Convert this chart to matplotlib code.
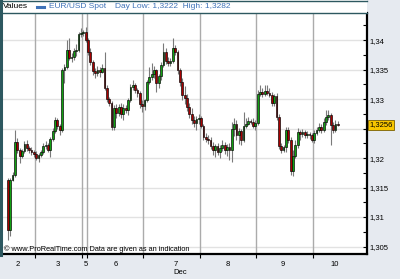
import matplotlib
matplotlib.use('Agg')
import matplotlib.pyplot as plt
import matplotlib.ticker as mticker
from matplotlib.patches import Rectangle
from matplotlib.lines import Line2D

# hourly EUR/USD candles, Dec 2 - Dec 10
opens = [1.3163, 1.3078, 1.3163, 1.3171, 1.3227, 1.3214, 1.3203, 1.3212, 1.3224, 1.3217,
         1.3214, 1.3210, 1.3207, 1.3200, 1.3205, 1.3210, 1.3220, 1.3222, 1.3214, 1.3232,
         1.3246, 1.3264, 1.3254, 1.3247, 1.3349, 1.3354, 1.3383, 1.3370, 1.3371, 1.3381,
         1.3383, 1.3410, 1.3412, 1.3414, 1.3400, 1.3380, 1.3363, 1.3347, 1.3344, 1.3349,
         1.3346, 1.3353, 1.3319, 1.3300, 1.3293, 1.3252, 1.3285, 1.3276, 1.3286, 1.3275,
         1.3285, 1.3281, 1.3298, 1.3320, 1.3324, 1.3315, 1.3310, 1.3292, 1.3288, 1.3298,
         1.3329, 1.3337, 1.3342, 1.3349, 1.3327, 1.3339, 1.3358, 1.3380, 1.3364, 1.3361,
         1.3364, 1.3386, 1.3380, 1.3349, 1.3329, 1.3307, 1.3302, 1.3286, 1.3275, 1.3264,
         1.3259, 1.3266, 1.3268, 1.3254, 1.3236, 1.3232, 1.3231, 1.3220, 1.3214, 1.3220,
         1.3210, 1.3217, 1.3222, 1.3214, 1.3219, 1.3214, 1.3249, 1.3258, 1.3239, 1.3246,
         1.3231, 1.3254, 1.3258, 1.3263, 1.3261, 1.3254, 1.3259, 1.3309, 1.3312, 1.3309,
         1.3314, 1.3310, 1.3307, 1.3293, 1.3305, 1.3270, 1.3220, 1.3214, 1.3219, 1.3247,
         1.3231, 1.3178, 1.3203, 1.3222, 1.3244, 1.3241, 1.3244, 1.3239, 1.3241, 1.3239,
         1.3231, 1.3242, 1.3247, 1.3252, 1.3247, 1.3261, 1.3270, 1.3273, 1.3256, 1.3247,
         1.3258]
closes = [1.3078, 1.3163, 1.3171, 1.3227, 1.3214, 1.3203, 1.3212, 1.3224, 1.3217, 1.3214,
          1.3210, 1.3207, 1.3200, 1.3205, 1.3210, 1.3220, 1.3222, 1.3214, 1.3232, 1.3246,
          1.3264, 1.3254, 1.3247, 1.3349, 1.3354, 1.3383, 1.3370, 1.3371, 1.3381, 1.3383,
          1.3410, 1.3412, 1.3414, 1.3400, 1.3380, 1.3363, 1.3347, 1.3344, 1.3349, 1.3346,
          1.3353, 1.3319, 1.3300, 1.3293, 1.3252, 1.3285, 1.3276, 1.3286, 1.3275, 1.3285,
          1.3281, 1.3298, 1.3320, 1.3324, 1.3315, 1.3310, 1.3292, 1.3288, 1.3298, 1.3329,
          1.3337, 1.3342, 1.3349, 1.3327, 1.3339, 1.3358, 1.3380, 1.3364, 1.3361, 1.3364,
          1.3386, 1.3380, 1.3349, 1.3329, 1.3307, 1.3302, 1.3286, 1.3275, 1.3264, 1.3259,
          1.3266, 1.3268, 1.3254, 1.3236, 1.3232, 1.3231, 1.3220, 1.3214, 1.3220, 1.3210,
          1.3217, 1.3222, 1.3214, 1.3219, 1.3214, 1.3249, 1.3258, 1.3239, 1.3246, 1.3231,
          1.3254, 1.3258, 1.3263, 1.3261, 1.3254, 1.3259, 1.3309, 1.3312, 1.3309, 1.3314,
          1.3310, 1.3307, 1.3293, 1.3305, 1.3270, 1.3220, 1.3214, 1.3219, 1.3247, 1.3231,
          1.3178, 1.3203, 1.3222, 1.3244, 1.3241, 1.3244, 1.3239, 1.3241, 1.3239, 1.3231,
          1.3242, 1.3247, 1.3252, 1.3247, 1.3261, 1.3270, 1.3273, 1.3256, 1.3247, 1.3258,
          1.3256]
highs = [1.3166, 1.3166, 1.3176, 1.3247, 1.3234, 1.3217, 1.3215, 1.3229, 1.3231, 1.3220,
         1.3219, 1.3214, 1.3212, 1.3208, 1.3214, 1.3225, 1.3229, 1.3225, 1.3236, 1.3251,
         1.3270, 1.3268, 1.3258, 1.3353, 1.3359, 1.3400, 1.3403, 1.3378, 1.3386, 1.3393,
         1.3414, 1.3420, 1.3417, 1.3422, 1.3403, 1.3386, 1.3366, 1.3353, 1.3356, 1.3354,
         1.3359, 1.3380, 1.3324, 1.3303, 1.3297, 1.3290, 1.3292, 1.3292, 1.3293, 1.3292,
         1.3290, 1.3302, 1.3325, 1.3332, 1.3327, 1.3319, 1.3314, 1.3298, 1.3300, 1.3332,
         1.3354, 1.3361, 1.3356, 1.3351, 1.3342, 1.3363, 1.3395, 1.3386, 1.3371, 1.3370,
         1.3403, 1.3392, 1.3383, 1.3353, 1.3336, 1.3322, 1.3309, 1.3293, 1.3285, 1.3271,
         1.3271, 1.3275, 1.3271, 1.3258, 1.3242, 1.3239, 1.3236, 1.3227, 1.3224, 1.3225,
         1.3222, 1.3231, 1.3227, 1.3224, 1.3225, 1.3261, 1.3268, 1.3264, 1.3251, 1.3249,
         1.3278, 1.3268, 1.3270, 1.3266, 1.3268, 1.3264, 1.3315, 1.3324, 1.3319, 1.3324,
         1.3324, 1.3319, 1.3312, 1.3309, 1.3310, 1.3275, 1.3225, 1.3222, 1.3252, 1.3252,
         1.3236, 1.3214, 1.3231, 1.3251, 1.3247, 1.3249, 1.3247, 1.3246, 1.3244, 1.3242,
         1.3247, 1.3252, 1.3259, 1.3258, 1.3268, 1.3281, 1.3281, 1.3276, 1.3261, 1.3264,
         1.3263]
lows = [1.3061, 1.3068, 1.3161, 1.3168, 1.3208, 1.3192, 1.3200, 1.3208, 1.3212, 1.3208,
        1.3205, 1.3202, 1.3197, 1.3193, 1.3202, 1.3207, 1.3215, 1.3210, 1.3202, 1.3229,
        1.3242, 1.3249, 1.3239, 1.3244, 1.3327, 1.3351, 1.3366, 1.3363, 1.3366, 1.3373,
        1.3380, 1.3405, 1.3407, 1.3397, 1.3375, 1.3358, 1.3341, 1.3336, 1.3339, 1.3337,
        1.3344, 1.3315, 1.3295, 1.3288, 1.3247, 1.3247, 1.3268, 1.3271, 1.3268, 1.3264,
        1.3276, 1.3273, 1.3295, 1.3315, 1.3310, 1.3303, 1.3285, 1.3278, 1.3281, 1.3295,
        1.3325, 1.3332, 1.3336, 1.3312, 1.3319, 1.3332, 1.3354, 1.3359, 1.3356, 1.3356,
        1.3361, 1.3375, 1.3342, 1.3322, 1.3298, 1.3292, 1.3280, 1.3268, 1.3258, 1.3252,
        1.3247, 1.3258, 1.3251, 1.3231, 1.3227, 1.3224, 1.3215, 1.3205, 1.3202, 1.3205,
        1.3200, 1.3212, 1.3207, 1.3203, 1.3197, 1.3193, 1.3237, 1.3231, 1.3224, 1.3222,
        1.3227, 1.3251, 1.3256, 1.3258, 1.3251, 1.3247, 1.3256, 1.3305, 1.3303, 1.3305,
        1.3307, 1.3303, 1.3288, 1.3288, 1.3264, 1.3215, 1.3208, 1.3210, 1.3210, 1.3225,
        1.3171, 1.3170, 1.3200, 1.3217, 1.3231, 1.3236, 1.3234, 1.3234, 1.3232, 1.3227,
        1.3225, 1.3239, 1.3244, 1.3242, 1.3244, 1.3256, 1.3264, 1.3222, 1.3242, 1.3244,
        1.3254]

day_labels = ['2', '3', '5', '6', '7', '8', '9', '10']
day_label_pos = [4.3, 21.3, 33.2, 45.9, 71.4, 93.4, 116.8, 138.8]
day_breaks = [11.5, 31.5, 33.5, 57.5, 81.5, 105.5, 129.5]
last_price = 1.3256

fig = plt.figure(figsize=(4.0, 2.79), dpi=100)
fig.patch.set_facecolor('#e6eaf0')
plt.rcParams['font.family'] = ['Liberation Sans', 'DejaVu Sans']

W, H = 400.0, 279.0
ax = fig.add_axes([3 / W, 1 - 254 / H, 364 / W, 241 / H])
ax.set_facecolor('white')

x = list(range(len(closes)))
up_col, down_col = '#12a012', '#a80000'
cols = [up_col if c >= o else down_col for o, c in zip(opens, closes)]
bodies = [c - o if abs(c - o) > 0.00005 else 0.00006 for o, c in zip(opens, closes)]

ax.vlines(x, lows, highs, color='#7a7a7a', lw=0.8, zorder=2)
ax.bar(x, bodies, bottom=opens, width=0.75, color=cols, edgecolor='black',
       linewidth=0.45, zorder=3)

for b in day_breaks:
    ax.axvline(b, color='#ababab', lw=1.0, zorder=1)

ax.set_xlim(-2.08, 152.4)
ax.set_ylim(1.30373, 1.3446)


def price_fmt(v, pos):
    # the 1,325 label sits under the last-price tag
    if abs(v - 1.325) < 1e-6:
        return ''
    return ('%g' % round(v, 4)).replace('.', ',')


ax.yaxis.tick_right()
ax.yaxis.set_major_locator(mticker.MultipleLocator(0.005))
ax.yaxis.set_minor_locator(mticker.MultipleLocator(0.0025))
ax.yaxis.set_major_formatter(mticker.FuncFormatter(price_fmt))
ax.tick_params(axis='y', which='both', direction='in', right=True, left=False,
               labelsize=5.5, pad=2, length=3, width=0.8, colors='black')
ax.grid(axis='y', which='major', color='#e2e2e2', lw=1.0, zorder=0)
ax.set_axisbelow(True)

ax.set_xticks(day_label_pos)
ax.set_xticklabels(day_labels)
ax.set_xticks(day_breaks, minor=True)
ax.tick_params(axis='x', which='major', length=0, labelsize=5.5, pad=5)
ax.tick_params(axis='x', which='minor', length=3, width=0.8, direction='out')

for s in ['top', 'left']:
    ax.spines[s].set_visible(False)
ax.spines['bottom'].set_linewidth(1.6)
ax.spines['right'].set_linewidth(1.6)

# last price tag
ax.text(1.006, last_price, '1,3256', transform=ax.get_yaxis_transform(),
        fontsize=5.5, va='center', ha='left', zorder=5,
        bbox=dict(boxstyle='square,pad=0.2', fc='#f7c600', ec='#7a6000', lw=0.6))

ax.text(0.003, 0.006, '\u00a9 www.ProRealTime.com Data are given as an indication',
        transform=ax.transAxes, fontsize=5.3, va='bottom', ha='left')

# header strip
fig.patches.append(Rectangle((3 / W, 1 - 13 / H), 364 / W, 13 / H, transform=fig.transFigure,
                             fc='white', ec='none'))
fig.lines.append(Line2D([3 / W, 367 / W], [1 - 12.5 / H, 1 - 12.5 / H], transform=fig.transFigure,
                        color='#2d5860', lw=1.0))
fig.lines.append(Line2D([1 / W, 1 / W], [1 - 255 / H, 1], transform=fig.transFigure,
                        color='#2d5860', lw=2.2))
fig.lines.append(Line2D([0, 367 / W], [1 - 0.5 / H, 1 - 0.5 / H], transform=fig.transFigure,
                        color='#2d5860', lw=1.0))
fig.lines.append(Line2D([37 / W, 44 / W], [1 - 7 / H, 1 - 7 / H], transform=fig.transFigure,
                        color='#3f72b8', lw=2.2))

blue = '#3f72b8'
fig.text(3 / W, 1 - 7 / H, 'Values', fontsize=6, va='center', ha='left', color='black')
fig.text(49 / W, 1 - 7 / H, 'EUR/USD Spot', fontsize=6, va='center', ha='left', color=blue)
fig.text(115 / W, 1 - 7 / H, 'Day Low: 1,3222  High: 1,3282', fontsize=6, va='center',
         ha='left', color=blue)
fig.text(180 / W, 1 - 273 / H, 'Dec', fontsize=5.5, va='center', ha='center')

fig.savefig('out.png', dpi=100, facecolor=fig.get_facecolor())
